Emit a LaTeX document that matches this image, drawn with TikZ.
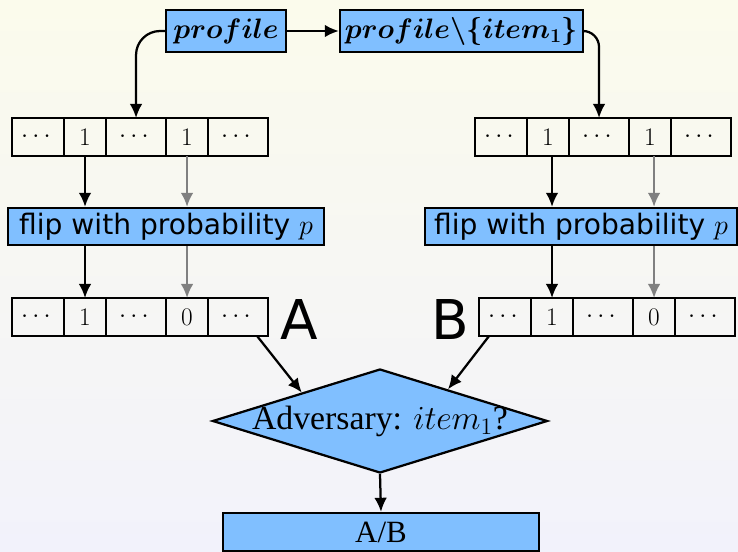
\RequirePackage{fix-cm}
\documentclass[tikz,border=0pt]{standalone}
\usepackage{amsmath}
\usepackage{fontspec}
\setsansfont{DejaVu Sans}
\newfontfamily\timesfont{Liberation Serif}
\usetikzlibrary{shapes.geometric,arrows.meta,positioning}
\definecolor{boxblue}{RGB}{128,191,255}
\definecolor{bgtop}{RGB}{251,251,236}
\definecolor{bgbot}{RGB}{242,242,251}

\begin{document}
\begin{tikzpicture}[
    x=0.025cm, y=-0.025cm,
    line width=1.6pt,
    >={Latex[length=10pt,width=9pt]},
    box/.style={draw, fill=boxblue, inner sep=0pt},
    cell/.style={draw, anchor=west, outer sep=0pt, inner sep=0pt, minimum height=0.95cm, font=\fontsize{18}{21}\selectfont},
    flipbox/.style={box, minimum height=0.925cm, font=\sffamily\fontsize{20}{24}\selectfont},
    lbl/.style={inner sep=0pt, font=\sffamily\fontsize{39}{44}\selectfont},
    faded/.style={->, gray},
]
    % Background
    \useasboundingbox (0,0) rectangle (738,552);
    \shade[top color=bgtop, bottom color=bgbot] (0,0) rectangle (738,552);

    % Profiles
    \node[box, minimum width=3cm, minimum height=1.05cm, font=\fontsize{20}{24}\selectfont] (prof) at (226,31) {$\boldsymbol{profile}$};
    \node[box, minimum width=6.075cm, minimum height=1.05cm, font=\fontsize{20}{24}\selectfont] (profx) at (461.5,31) {$\boldsymbol{profile\backslash\{item_1\}}$};

    % Bit vectors
    \foreach \arr/\x/\y/\b in {lt/12/137/1, rt/475/137/1, lb/12/317/0, rb/479/317/0} {
        \node[cell, minimum width=1.3cm] (\arr1) at (\x,\y) {$\cdots$};
        \node[cell, minimum width=1.05cm, right=0pt of \arr1] (\arr2) {$1$};
        \node[cell, minimum width=1.5cm, right=0pt of \arr2] (\arr3) {$\cdots$};
        \node[cell, minimum width=1.05cm, right=0pt of \arr3] (\arr4) {$\b$};
        \node[cell, minimum width=1.5cm, right=0pt of \arr4] (\arr5) {$\cdots$};
    }

    % Randomisation
    \node[flipbox, minimum width=7.9cm] (flipL) at (166,226.5) {flip with probability $p$};
    \node[flipbox, minimum width=7.8cm] (flipR) at (581,226.5) {flip with probability $p$};

    % Labels
    \node[lbl] (labA) at (299,320) {A};
    \node[lbl] (labB) at (450,320) {B};

    % Adversary and answer
    \node[box, shape=diamond, aspect=3.2, inner sep=-6pt, minimum width=8.375cm, minimum height=2.6cm, font=\timesfont\fontsize{24}{28}\selectfont] (adv) at (380,421) {Adversary: $item_1$?};
    \node[box, minimum width=7.9cm, minimum height=0.95cm, font=\timesfont\fontsize{22}{26}\selectfont] (res) at (381,532) {A/B};

    % Connections
    \draw[->] (prof) -- (profx);
    \draw[->, rounded corners=0.6cm] (prof.west) -| (lt3.north);
    \draw[->, rounded corners=0.4cm] (profx.east) -| (rt3.north);

    \draw[->] (lt2.south) -- (lt2.south |- flipL.north);
    \draw[faded] (lt4.south) -- (lt4.south |- flipL.north);
    \draw[->] (lb2.north |- flipL.south) -- (lb2.north);
    \draw[faded] (lb4.north |- flipL.south) -- (lb4.north);

    \draw[->] (rb2.north |- rt2.south) -- (rb2.north |- flipR.north);
    \draw[faded] (rb4.north |- rt4.south) -- (rb4.north |- flipR.north);
    \draw[->] (rb2.north |- flipR.south) -- (rb2.north);
    \draw[faded] (rb4.north |- flipR.south) -- (rb4.north);

    \draw[->] (lb5.-45) -- (adv.160);
    \draw[->] (rb1.-130) -- (adv.25);
    \draw[->] (adv.south) -- (res.north);
\end{tikzpicture}
\end{document}
